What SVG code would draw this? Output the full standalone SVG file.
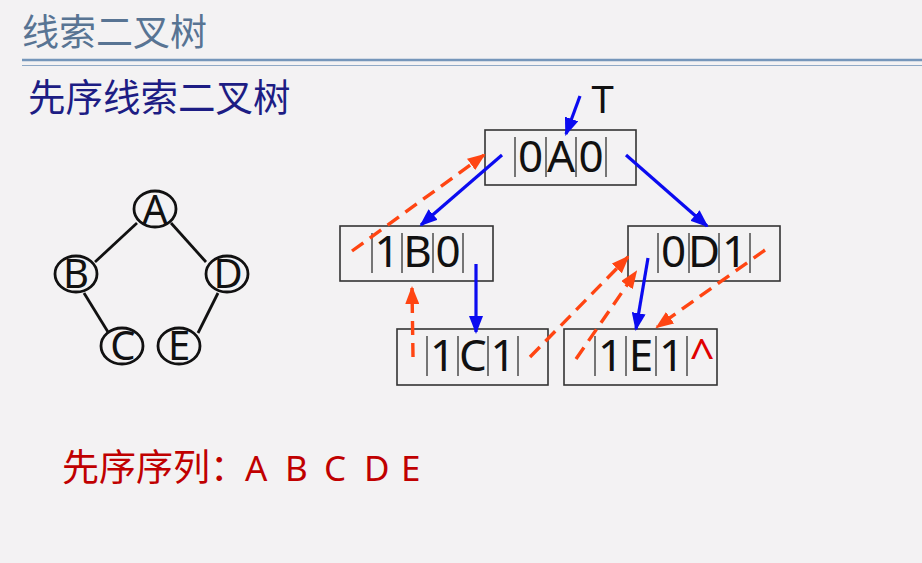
<svg xmlns="http://www.w3.org/2000/svg" width="922" height="563" viewBox="0 0 922 563">
<defs>
<marker id="ab" viewBox="0 0 18 14" markerWidth="18" markerHeight="14" refX="16" refY="7" orient="auto" markerUnits="userSpaceOnUse"><path d="M0,0 L18,7 L0,14 z" fill="#0b0bf0"/></marker>
<marker id="ar" viewBox="0 0 18 14" markerWidth="18" markerHeight="14" refX="16" refY="7" orient="auto" markerUnits="userSpaceOnUse"><path d="M0,0 L18,7 L0,14 z" fill="#ff4512"/></marker>
</defs>
<style>
.cjk{font-family:"Noto Sans CJK SC","Noto Sans",sans-serif}
.box{fill:none;stroke:#333;stroke-width:1.6}
.bar{stroke:#555;stroke-width:1.6}
.ch{font-family:"Noto Sans","DejaVu Sans",sans-serif;font-size:44px;fill:#111;text-anchor:middle}
.blue{stroke:#0b0bf0;stroke-width:3.2;fill:none;marker-end:url(#ab)}
.red{stroke:#ff4512;stroke-width:3.4;fill:none;stroke-dasharray:14 8;marker-end:url(#ar)}
.tn{fill:none;stroke:#111;stroke-width:2.8}
.tl{font-family:"Noto Sans","DejaVu Sans",sans-serif;font-size:40px;fill:#111;text-anchor:middle}
.te{stroke:#111;stroke-width:2.8}
</style>
<rect width="922" height="563" fill="#f3f2f3"/>
<text class="cjk" x="22" y="46" font-size="37" fill="#587493">线索二叉树</text>
<line x1="22" y1="60" x2="922" y2="60" stroke="#7596ba" stroke-width="2.5"/>
<line x1="22" y1="65.5" x2="922" y2="65.5" stroke="#8fa9c6" stroke-width="1.2"/>
<text class="cjk" x="28" y="111" font-size="37.5" fill="#1d1d84">先序线索二叉树</text>

<g id="tree">
<line class="te" x1="137" y1="223" x2="95" y2="262"/>
<line class="te" x1="171" y1="223" x2="206" y2="262"/>
<line class="te" x1="84" y1="293" x2="108" y2="332"/>
<line class="te" x1="218" y1="293" x2="198" y2="333"/>
<g id="tA"><ellipse class="tn" cx="155" cy="209" rx="21" ry="18"/><text class="tl" x="155" y="224">A</text></g>
<g id="tB"><ellipse class="tn" cx="76" cy="274" rx="21" ry="18"/><text class="tl" x="76" y="288">B</text></g>
<g id="tD"><ellipse class="tn" cx="227" cy="274" rx="21" ry="18"/><text class="tl" x="228" y="288">D</text></g>
<g id="tC"><ellipse class="tn" cx="122" cy="346" rx="21" ry="18"/><text class="tl" x="123" y="360">C</text></g>
<g id="tE"><ellipse class="tn" cx="179" cy="346" rx="21" ry="18"/><text class="tl" x="179" y="360">E</text></g>
</g>

<text x="591" y="113" font-family="Liberation Sans, Arial, sans-serif" font-size="38" fill="#111">T</text>

<g id="nodeA">
<rect class="box" x="485" y="130" width="151" height="55"/>
<line class="bar" x1="515" y1="137" x2="515" y2="177"/><line class="bar" x1="546" y1="137" x2="546" y2="177"/><line class="bar" x1="576" y1="137" x2="576" y2="177"/><line class="bar" x1="606" y1="137" x2="606" y2="177"/>
<text class="ch" y="172"><tspan x="530.5">0</tspan><tspan x="561">A</tspan><tspan x="591">0</tspan></text>
</g>
<g id="nodeB">
<rect class="box" x="340" y="226" width="153" height="55"/>
<line class="bar" x1="372" y1="233" x2="372" y2="273"/><line class="bar" x1="402" y1="233" x2="402" y2="273"/><line class="bar" x1="433" y1="233" x2="433" y2="273"/><line class="bar" x1="463" y1="233" x2="463" y2="273"/>
<text class="ch" y="267"><tspan x="387">1</tspan><tspan x="417.5">B</tspan><tspan x="448">0</tspan></text>
</g>
<g id="nodeD">
<rect class="box" x="628" y="226" width="152" height="55"/>
<line class="bar" x1="658" y1="233" x2="658" y2="273"/><line class="bar" x1="689" y1="233" x2="689" y2="273"/><line class="bar" x1="719" y1="233" x2="719" y2="273"/><line class="bar" x1="750" y1="233" x2="750" y2="273"/>
<text class="ch" y="267"><tspan x="673.5">0</tspan><tspan x="704">D</tspan><tspan x="734.5">1</tspan></text>
</g>
<g id="nodeC">
<rect class="box" x="397" y="329" width="151" height="56"/>
<line class="bar" x1="427" y1="336" x2="427" y2="376"/><line class="bar" x1="458" y1="336" x2="458" y2="376"/><line class="bar" x1="488" y1="336" x2="488" y2="376"/><line class="bar" x1="518" y1="336" x2="518" y2="376"/>
<text class="ch" y="371"><tspan x="442.5">1</tspan><tspan x="473">C</tspan><tspan x="503">1</tspan></text>
</g>
<g id="nodeE">
<rect class="box" x="564" y="329" width="153" height="56"/>
<line class="bar" x1="595" y1="336" x2="595" y2="376"/><line class="bar" x1="626" y1="336" x2="626" y2="376"/><line class="bar" x1="656" y1="336" x2="656" y2="376"/><line class="bar" x1="687" y1="336" x2="687" y2="376"/>
<text class="ch" y="371"><tspan x="610.5">1</tspan><tspan x="641">E</tspan><tspan x="671.5">1</tspan><tspan x="702" fill="#e00000">^</tspan></text>
</g>

<g id="connectors">
<line class="blue" x1="580" y1="96" x2="566" y2="134"/>
<line class="blue" x1="502" y1="155" x2="421" y2="225"/>
<line class="blue" x1="626" y1="155" x2="707" y2="226"/>
<line class="blue" x1="476" y1="264" x2="476" y2="332"/>
<line class="blue" x1="648" y1="258" x2="636" y2="329"/>
<line class="red" x1="352" y1="251" x2="484" y2="155"/>
<line class="red" x1="413" y1="357" x2="412" y2="288"/>
<line class="red" x1="530" y1="357" x2="628" y2="257"/>
<line class="red" x1="576" y1="359" x2="636" y2="272"/>
<line class="red" x1="765" y1="250" x2="657" y2="327"/>
</g>

<text class="cjk" x="62" y="481" font-size="37" fill="#c00000">先序序列：<tspan font-family="Noto Sans, sans-serif" font-size="35" x="245 266 285 306 324 345 364 385 401">A B C D E</tspan></text>
</svg>
